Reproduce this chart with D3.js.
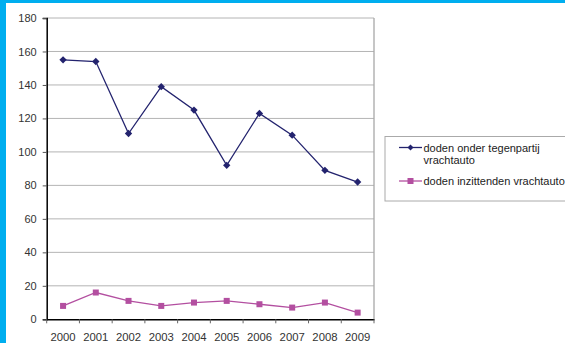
<!DOCTYPE html>
<html>
<head>
<meta charset="utf-8">
<script src="https://cdn.jsdelivr.net/npm/d3@7"></script>
<style>
html,body{margin:0;padding:0;background:#fff;}
svg{display:block;}
text{font-family:"Liberation Sans",Arial,sans-serif;}
</style>
</head>
<body>
<script>
const years = ["2000","2001","2002","2003","2004","2005","2006","2007","2008","2009"];
const tegenpartij = [155,154,111,139,125,92,123,110,89,82];
const inzittenden = [8,16,11,8,10,11,9,7,10,4];
const yTicks = [0,20,40,60,80,100,120,140,160,180];
const seriesNames = ["doden onder tegenpartij vrachtauto","doden inzittenden vrachtauto"];

(function(){
const W = 565, H = 343;
const svg = d3.select("body").append("svg").attr("width", W).attr("height", H);

// blue frame
svg.append("rect").attr("x",0).attr("y",0).attr("width",W).attr("height",3).attr("fill","#00AEEF");
svg.append("rect").attr("x",0).attr("y",0).attr("width",6).attr("height",H).attr("fill","#00AEEF");

const pLeft = 46.7, pRight = 374, pTop = 18, pBottom = 319.3;
const x = d3.scaleBand().domain(years).range([pLeft, pRight]);
const y = d3.scaleLinear().domain([0,180]).range([pBottom, pTop]);

// gridlines
svg.append("g").selectAll("line").data(yTicks.filter(d=>d>0)).join("line")
  .attr("x1", pLeft).attr("x2", pRight)
  .attr("y1", d=>y(d)).attr("y2", d=>y(d))
  .attr("stroke","#b4b4b4").attr("stroke-width",1);
// right border
svg.append("line").attr("x1",pRight).attr("x2",pRight).attr("y1",pTop).attr("y2",pBottom)
  .attr("stroke","#a8a8a8").attr("stroke-width",1.3);

// y axis
const yAxis = svg.append("g").attr("transform",`translate(${pLeft},0)`)
  .call(d3.axisLeft(y).tickValues(yTicks).tickSize(4).tickPadding(6));
yAxis.select(".domain").attr("stroke","#000").attr("stroke-width",1.5);
yAxis.selectAll(".tick line").attr("stroke","#555");
yAxis.selectAll("text").attr("font-size","11px").attr("fill","#333")
  .attr("font-family","'Liberation Sans',Arial,sans-serif");

// x axis
const xAxis = svg.append("g").attr("transform",`translate(0,${pBottom})`)
  .call(d3.axisBottom(x).tickSize(0).tickPadding(14));
xAxis.select(".domain").attr("stroke","#000").attr("stroke-width",1.5);
xAxis.selectAll("text").attr("font-size","11.3px").attr("fill","#333")
  .attr("font-family","'Liberation Sans',Arial,sans-serif");
// boundary ticks
const bounds = years.map(d=>x(d)).concat([pRight]);
svg.append("g").selectAll("line").data(bounds).join("line")
  .attr("x1",d=>d).attr("x2",d=>d).attr("y1",pBottom).attr("y2",pBottom+4)
  .attr("stroke","#666");

const cx = d => x(d) + x.bandwidth()/2;
const navy = "#23236e", pink = "#b34fa0";

const line = d3.line().x((d,i)=>cx(years[i])).y(d=>y(d));

svg.append("path").datum(tegenpartij).attr("d",line).attr("fill","none")
  .attr("stroke",navy).attr("stroke-width",1.3);
svg.append("path").datum(inzittenden).attr("d",line).attr("fill","none")
  .attr("stroke",pink).attr("stroke-width",1.3);

const diamond = d3.symbol().type(d3.symbolSquare).size(27);
svg.append("g").selectAll("path").data(tegenpartij).join("path")
  .attr("d",diamond).attr("transform",(d,i)=>`translate(${cx(years[i])},${y(d)}) rotate(45)`)
  .attr("fill",navy);
svg.append("g").selectAll("rect").data(inzittenden).join("rect")
  .attr("x",(d,i)=>cx(years[i])-3).attr("y",d=>y(d)-3)
  .attr("width",6).attr("height",6).attr("fill",pink);

// legend
const lg = svg.append("g");
lg.append("rect").attr("x",385).attr("y",136.5).attr("width",190).attr("height",64.5)
  .attr("fill","#fff").attr("stroke","#aaa").attr("stroke-width",1);
const rows = [{c:navy, yy:147.5, lines:["doden onder tegenpartij","vrachtauto"], m:"d"},
              {c:pink, yy:181, lines:["doden inzittenden vrachtauto"], m:"s"}];
rows.forEach(r=>{
  lg.append("line").attr("x1",399).attr("x2",422).attr("y1",r.yy).attr("y2",r.yy)
    .attr("stroke",r.c).attr("stroke-width",1.3);
  if(r.m==="d"){
    lg.append("path").attr("d",d3.symbol().type(d3.symbolSquare).size(18))
      .attr("transform",`translate(410.5,${r.yy}) rotate(45)`).attr("fill",r.c);
  } else {
    lg.append("rect").attr("x",407.5).attr("y",r.yy-3).attr("width",6).attr("height",6).attr("fill",r.c);
  }
  r.lines.forEach((t,i)=>{
    lg.append("text").attr("x",423.5).attr("y",r.yy+4+i*12).attr("font-size","11px")
      .attr("fill","#222").text(t);
  });
});
})();
</script>
</body>
</html>
